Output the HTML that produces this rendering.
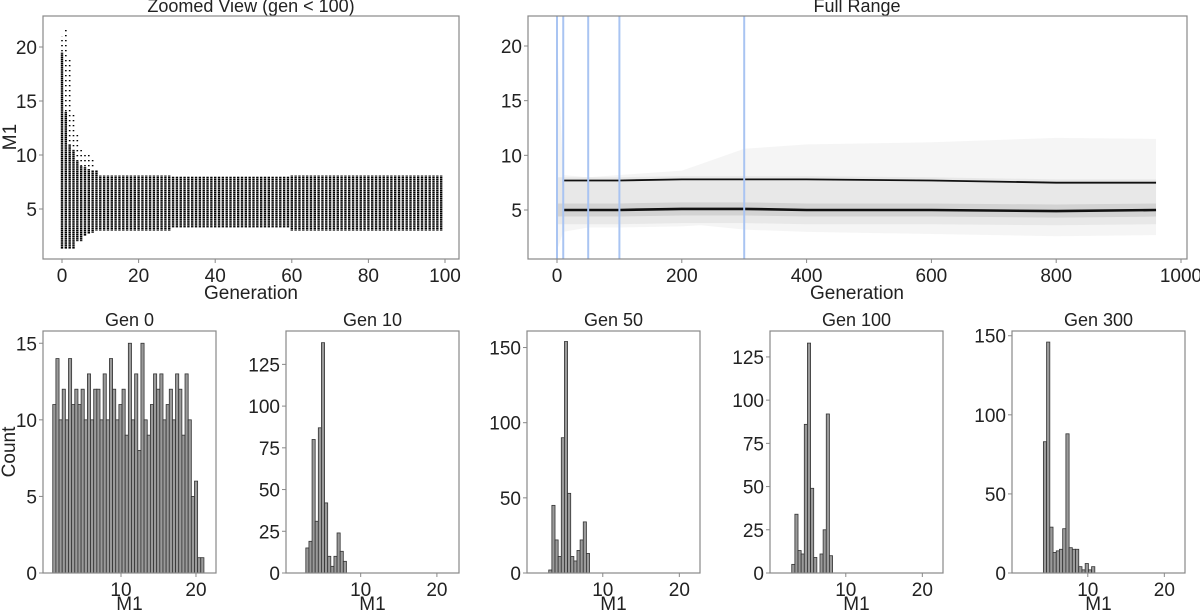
<!DOCTYPE html>
<html><head><meta charset="utf-8"><style>
body{margin:0;background:#fff}
svg{display:block;font-family:"Liberation Sans",sans-serif}
</style></head><body>
<svg id="s" width="1200" height="610" viewBox="0 0 1200 610" xmlns="http://www.w3.org/2000/svg"></svg>
<script>
// ---- top-left scatter data (per-generation range) ----
const zoomGens = Array.from({length:100},(_,i)=>i);
const earlyMin = [1.3,1.3,1.3,1.3,2.0,2.0,2.5,2.7,2.8,3.0];
const earlyMax = [21.0,21.8,19.1,14.0,12.0,10.5,10.3,10.2,9.6,8.7];
const earlyDense = [19.5,14.0,11.0,10.5,9.5,9.0,8.9,8.7,8.6,8.6];
const plateauMin = [3.0,3.3,3.0];   // gens 10-28, 29-59, 60-99
const plateauMax = [8.1,8.0,8.1];
// ---- top-right full-range density ----
const bandGens = [0,10,50,100,200,230,300,400,600,800,960];
const bandLow  = [1.3,3.0,3.4,3.4,3.5,3.6,3.2,3.0,2.8,2.6,2.7];
const bandHigh = [21,8.2,8.0,8.2,8.6,9.2,10.6,11.0,11.2,11.6,11.5];
const upperMode = [7.7,7.7,7.7,7.7,7.8,7.8,7.8,7.8,7.7,7.5,7.5];
const lowerMode = [5.0,5.0,5.0,5.0,5.1,5.1,5.1,5.0,5.0,4.9,5.0];
const markerGens = [0,10,50,100,300];
// ---- histograms ----
const histTitles = ["Gen 0","Gen 10","Gen 50","Gen 100","Gen 300"];
const histStart = [0.9,2.8,1.3,1.3,4.2];
const histWidth = [0.42,0.41,0.41,0.41,0.42];
const hist0 = [11,14,10,12,10,14,11,12,11,12,10,13,10,12,12,10,13,10,14,12,10,11,12,9,15,10,13,8,15,10,9,11,13,12,13,10,11,12,10,13,12,9,13,10,5,6,1,1];
const hist10 = [15,19,80,31,87,138,42,10,4,10,24,13,7];
const hist50 = [0,0,0,0,2,45,22,11,90,154,53,11,8,15,22,34,13];
const hist100 = [0,0,0,0,5,34,13,11,86,133,49,9,0,11,25,92,10];
const hist300 = [83,146,29,13,14,15,28,88,16,15,15,4,2,6,2,4];
const histYTicks = [[0,5,10,15],[0,25,50,75,100,125],[0,50,100,150],[0,25,50,75,100,125],[0,50,100,150]];
const histYMax = [15.8,145,161,140,153];

const NS="http://www.w3.org/2000/svg", S=document.getElementById('s');
const TF=19, AF=19;
function el(t,a,p){const e=document.createElementNS(NS,t);for(const k in a)e.setAttribute(k,a[k]);(p||S).appendChild(e);return e;}
function txt(x,y,s,size,anchor,p,rot){const e=el('text',{x:x,y:y,'font-size':size,'text-anchor':anchor||'middle',fill:'#222'},p);if(rot)e.setAttribute('transform',`rotate(-90 ${x} ${y})`);e.textContent=s;return e;}
function lin(d0,d1,r0,r1){return v=>r0+(v-d0)*(r1-r0)/(d1-d0);}
function frame(x0,y0,x1,y1,name){const r=el('rect',{x:x0,y:y0,width:x1-x0,height:y1-y0,fill:'none',stroke:'#888','stroke-width':1.2});}

const defs=el('defs',{});
const pat=el('pattern',{id:'dots',width:4,height:1.9,patternUnits:'userSpaceOnUse'},defs);
el('rect',{x:0,y:0,width:4,height:1.5,fill:'#000'},pat);
const pat2=el('pattern',{id:'sparse',width:4,height:5,patternUnits:'userSpaceOnUse'},defs);
el('rect',{x:0,y:0,width:4,height:1.3,fill:'#000'},pat2);

// ===== Top-left =====
{
const g=el('g',{});
const X=lin(0,100,62,445), Y=lin(5,20,209,47);
for(const gen of zoomGens){
  let lo,hi,dense;
  if(gen<10){lo=earlyMin[gen];hi=earlyMax[gen];dense=earlyDense[gen];}
  else{const k=gen<29?0:gen<60?1:2;lo=plateauMin[k];hi=plateauMax[k];dense=hi;}
  const c=el('rect',{x:X(gen)-1.2,y:Y(dense),width:2.4,height:Y(lo)-Y(dense),fill:'url(#dots)'},g);
  
  if(hi>dense){el('rect',{x:X(gen)-0.8,y:Y(hi),width:1.6,height:Y(dense)-Y(hi),fill:'url(#sparse)'},g);}
}
frame(43,16,459,259,'zoomed-plot-frame');
[0,20,40,60,80,100].forEach(v=>{el('line',{x1:X(v),x2:X(v),y1:259,y2:263,stroke:'#888'},g);const t=txt(X(v),282,v,TF,'middle',g);});
[5,10,15,20].forEach(v=>{el('line',{x1:39,x2:43,y1:Y(v),y2:Y(v),stroke:'#888'},g);const t=txt(37,Y(v)+7,v,TF,'end',g);});
let t=txt(251,12,'Zoomed View (gen < 100)',18,'middle',g);
t=txt(251,299,'Generation',AF,'middle',g);
t=txt(16,137,'M1',AF,'middle',g,true);
}

// ===== Top-right =====
{
const g=el('g',{});
const X=lin(0,1000,557,1181), Y=lin(5,20,210,46);
let pts=bandGens.map((v,i)=>X(v)+','+Y(bandHigh[i])).join(' ')+' '+bandGens.slice().reverse().map((v,i)=>X(v)+','+Y(bandLow[bandGens.length-1-i])).join(' ');
const band=el('polygon',{points:pts,fill:'#000','fill-opacity':0.04},g);

let inner=bandGens.map((v,i)=>X(v)+','+Y(upperMode[i]+0.3)).join(' ')+' '+bandGens.slice().reverse().map((v,i)=>X(v)+','+Y(lowerMode[bandGens.length-1-i]-1.3)).join(' ');
el('polygon',{points:inner,fill:'#000','fill-opacity':0.05},g);
const lband=bandGens.map((v,i)=>X(v)+','+Y(lowerMode[i]+0.6)).join(' ')+' '+bandGens.slice().reverse().map((v,i)=>X(v)+','+Y(lowerMode[bandGens.length-1-i]-0.6)).join(' ');
el('polygon',{points:lband,fill:'#000','fill-opacity':0.09},g);
const um=el('polyline',{points:bandGens.slice(1).map((v,i)=>X(v)+','+Y(upperMode[i+1])).join(' '),fill:'none',stroke:'#111','stroke-width':1.8},g);

const lm=el('polyline',{points:bandGens.slice(1).map((v,i)=>X(v)+','+Y(lowerMode[i+1])).join(' '),fill:'none',stroke:'#111','stroke-width':2.6},g);

markerGens.forEach(m=>{const l=el('line',{x1:X(m),x2:X(m),y1:16,y2:259,stroke:'#a9c4f2','stroke-width':2},g);});
frame(528,16,1187,259,'full-range-plot-frame');
[0,200,400,600,800,1000].forEach(v=>{el('line',{x1:X(v),x2:X(v),y1:259,y2:263,stroke:'#888'},g);const t=txt(X(v),282,v,TF,'middle',g);});
[5,10,15,20].forEach(v=>{el('line',{x1:524,x2:528,y1:Y(v),y2:Y(v),stroke:'#888'},g);const t=txt(522,Y(v)+7,v,TF,'end',g);});
let t=txt(857,12,'Full Range',18,'middle',g);
t=txt(857,299,'Generation',AF,'middle',g);
}

// ===== Histograms =====
const histData=[hist0,hist10,hist50,hist100,hist300];
const panelL=[43,286,527,770,1012];
const xmin=[-0.4,0.2,0.1,0.1,0.1], xmax=[22.67,22.9,22.7,22.7,22.7];
histData.forEach((data,p)=>{
  const g=el('g',{});
  const L=panelL[p],R=L+173,T=331,B=573;
  const X=lin(xmin[p],xmax[p],L,R), Y=lin(0,histYMax[p],B,T);
  data.forEach((v,i)=>{
    const x0=histStart[p]+i*histWidth[p];
    const r=el('rect',{x:X(x0),y:Y(v),width:X(x0+histWidth[p])-X(x0),height:B-Y(v),fill:'#9a9a9a',stroke:'#333','stroke-width':0.8},g);
    
  });
  frame(L,T,R,B,'histogram-frame');
  [10,20].forEach(v=>{el('line',{x1:X(v),x2:X(v),y1:B,y2:B+4,stroke:'#888'},g);const t=txt(X(v),B+23,v,TF,'middle',g);});
  histYTicks[p].forEach(v=>{el('line',{x1:L-4,x2:L,y1:Y(v),y2:Y(v),stroke:'#888'},g);const t=txt(L-6,Y(v)+7,v,TF,'end',g);});
  let t=txt((L+R)/2,326,histTitles[p],18,'middle',g);
  t=txt((L+R)/2,610,'M1',AF,'middle',g);
});
let ct=txt(15,452,'Count',AF,'middle',S,true);


</script>
</body></html>
